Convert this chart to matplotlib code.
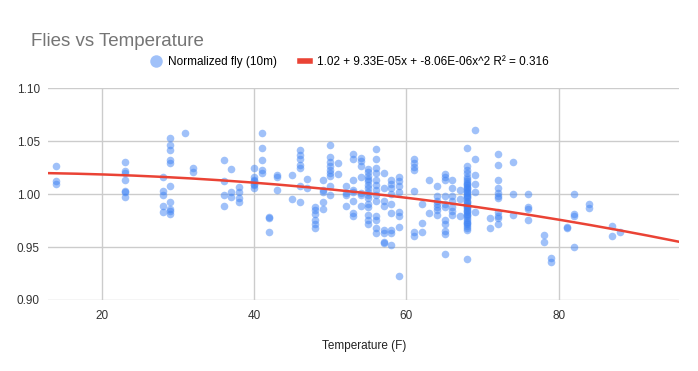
import numpy as np
import matplotlib
matplotlib.use("Agg")
from matplotlib import pyplot as plt
from matplotlib.lines import Line2D

plt.rcParams['font.family'] = ['Liberation Sans', 'DejaVu Sans']

# temperature (F) of each group of readings
temps = [14, 23, 28, 29, 31, 32, 36, 37, 38, 40, 41, 42, 43, 45, 46, 47, 48, 49,
         50, 51, 52, 53, 54, 55, 56, 57, 58, 59, 61, 62, 63, 64, 65, 66, 67, 68,
         69, 71, 72, 74, 76, 78, 79, 81, 82, 84, 87, 88]

# normalized fly counts (10m) read at each temperature
readings = [
    [1.027, 1.012, 1.010],
    [1.030, 1.022, 1.020, 1.013, 1.003, 1.002, 0.997],
    [1.016, 1.003, 0.999, 0.989, 0.983],
    [1.053, 1.046, 1.042, 1.032, 1.029, 1.008, 0.993, 0.986, 0.984, 0.981],
    [1.058],
    [1.025, 1.021],
    [1.032, 1.012, 0.999, 0.989],
    [1.024, 1.002, 0.997],
    [1.007, 1.002, 0.996, 0.993],
    [1.025, 1.016, 1.013, 1.012, 1.010, 1.009, 1.006],
    [1.058, 1.044, 1.032, 1.023, 1.020],
    [0.978, 0.977, 0.964],
    [1.018, 1.016, 1.004],
    [1.018, 0.995],
    [1.042, 1.037, 1.033, 1.028, 1.025, 1.008, 0.993],
    [1.014, 1.006],
    [0.988, 0.985, 0.981, 0.976, 0.972, 0.968],
    [1.013, 1.004, 1.002, 0.993, 0.986],
    [1.046, 1.035, 1.030, 1.027, 1.023, 1.020, 1.017, 1.008, 0.999],
    [1.029, 1.019],
    [1.008, 1.001, 0.999, 0.989],
    [1.038, 1.033, 1.013, 1.004, 1.002, 0.994, 0.982, 0.979],
    [1.034, 1.031, 1.027, 1.016, 1.001, 0.999, 0.989],
    [1.024, 1.021, 1.017, 1.014, 1.012, 1.009, 1.006, 1.002, 0.999, 0.996,
     0.991, 0.988, 0.980, 0.976, 0.972],
    [1.043, 1.033, 1.025, 1.020, 1.013, 1.009, 1.004, 0.999, 0.994, 0.979,
     0.976, 0.968, 0.963],
    [1.020, 1.006, 0.994, 0.989, 0.966, 0.963, 0.955, 0.954],
    [1.013, 1.010, 1.006, 1.000, 0.991, 0.982, 0.966, 0.963, 0.952],
    [1.016, 1.012, 1.008, 1.002, 0.983, 0.979, 0.969, 0.923],
    [1.033, 1.029, 1.026, 1.023, 1.003, 0.964, 0.960],
    [0.991, 0.973, 0.964],
    [1.013, 0.982],
    [1.008, 0.998, 0.994, 0.991, 0.988, 0.985, 0.980],
    [1.019, 1.016, 1.013, 0.998, 0.991, 0.988, 0.976, 0.972, 0.965, 0.962, 0.943],
    [1.013, 1.006, 0.998, 0.994, 0.988, 0.984, 0.980],
    [1.004, 0.995, 0.979],
    [1.044, 1.027, 1.023, 1.020, 1.016, 1.014, 1.012, 1.011, 1.010, 1.009,
     1.007, 1.006, 1.005, 1.003, 1.002, 1.001, 0.999, 0.998, 0.997, 0.996,
     0.994, 0.993, 0.992, 0.990, 0.989, 0.988, 0.987, 0.985, 0.984, 0.983,
     0.981, 0.980, 0.979, 0.977, 0.976, 0.974, 0.973, 0.972, 0.970, 0.968,
     0.966, 0.939],
    [1.061, 1.033, 1.018, 1.010, 1.002, 0.983],
    [0.977, 0.968],
    [1.038, 1.028, 1.013, 1.006, 1.001, 0.998, 0.996, 0.983, 0.979, 0.977, 0.972],
    [1.030, 1.000, 0.980],
    [1.000, 0.988, 0.986, 0.976],
    [0.961, 0.955],
    [0.940, 0.936],
    [0.969, 0.968],
    [1.000, 0.981, 0.979, 0.950],
    [0.991, 0.987],
    [0.970, 0.960],
    [0.964],
]

# trendline coefficients as shown in the legend
trend_coef = [1.02, 9.33e-05, -8.06e-06]
trend_label = "1.02 + 9.33E-05x + -8.06E-06x^2 R\u00b2 = 0.316"

x_lim = (13, 95.8)
y_ticks = [0.90, 0.95, 1.00, 1.05, 1.10]
x_ticks = [20, 40, 60, 80]

blue = '#4285F4'
red = '#EA4335'
grid_c = '#cccccc'

xs, ys = [], []
for t, r in zip(temps, readings):
    for v in r:
        xs.append(t)
        ys.append(v)

fig = plt.figure(figsize=(6.98, 3.71), dpi=100)
ax = fig.add_axes([48.3/698, 1-300/371, (679.3-48.3)/698, (300-88.3)/371])

ax.scatter(xs, ys, s=30, color=blue, alpha=0.5, linewidths=0, zorder=3)

xt = np.linspace(x_lim[0], x_lim[1], 200)
yt = trend_coef[0] + trend_coef[1]*xt + trend_coef[2]*xt**2
ax.plot(xt, yt, color=red, lw=1.8, zorder=4)

ax.set_xlim(x_lim)
ax.set_ylim(0.90, 1.10)
ax.set_xticks(x_ticks)
ax.set_yticks(y_ticks)
ax.set_yticklabels(['%.2f' % v for v in y_ticks])
ax.grid(True, color=grid_c, lw=1, zorder=0)
ax.set_axisbelow(True)
for s in ax.spines.values():
    s.set_visible(False)
ax.tick_params(length=0, labelsize=8.5, colors='#333333')
ax.tick_params(axis='y', pad=6)
ax.tick_params(axis='x', pad=7)
ax.set_xlabel('Temperature (F)', fontsize=8.5, color='#222222', labelpad=13)

fig.text(31/698, 1-41/371, 'Flies vs Temperature', fontsize=13.5, color='#757575',
         va='center', ha='left')

handles = [
    Line2D([], [], marker='o', ls='none', markersize=9, color=blue, alpha=0.5,
           markeredgewidth=0),
    Line2D([], [], color=red, lw=4),
]
fig.legend(handles, ['Normalized fly (10m)', trend_label], loc='center',
           bbox_to_anchor=(350/698, 1-62/371), ncol=2, frameon=False,
           fontsize=8.5, handlelength=0.8, handletextpad=0.6, columnspacing=2.0)

fig.savefig('out.png', dpi=100)
